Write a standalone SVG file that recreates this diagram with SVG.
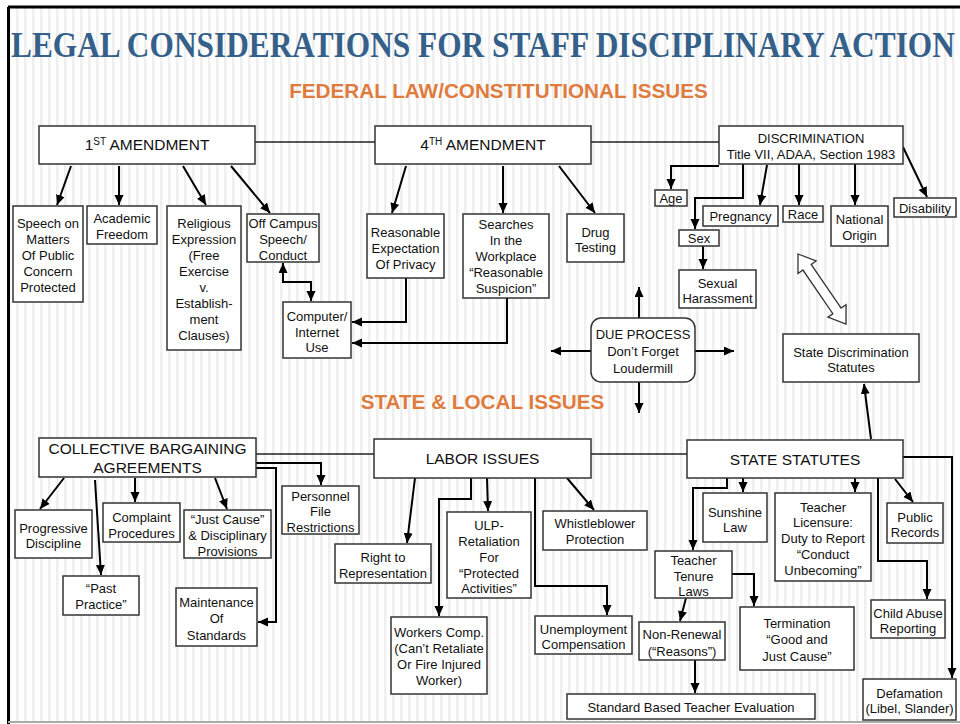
<svg xmlns="http://www.w3.org/2000/svg" width="960" height="724" viewBox="0 0 960 724">
  <defs>
    <pattern id="stripes" width="8" height="10" patternUnits="userSpaceOnUse">
      <rect width="8" height="10" fill="#ffffff"/>
      <rect x="0" width="2.5" height="10" fill="#efefef"/>
    </pattern>
    <marker id="ah" markerUnits="userSpaceOnUse" markerWidth="11" markerHeight="10" refX="10" refY="4.5" orient="auto-start-reverse">
      <path d="M0,0 L10,4.5 L0,9 z" fill="#000"/>
    </marker>
    <style>
      .box { fill: #ffffff; stroke: #333333; stroke-width: 1.5; }
      .t { font-family: "Liberation Sans", Arial, sans-serif; font-size: 13px; text-anchor: middle; fill: #111111; }
      .big { font-size: 15.5px; }
      .head { font-family: "Liberation Sans", Arial, sans-serif; font-weight: bold; font-size: 20.7px; text-anchor: middle; fill: #e07b3e; }
      .title { font-family: "Liberation Serif", "Times New Roman", serif; font-weight: bold; font-size: 35px; fill: #34608a; }
      .ln { fill: none; stroke: #222222; stroke-width: 1.5; }
      .ar { fill: none; stroke: #000000; stroke-width: 2; marker-end: url(#ah); }
      .ar2 { fill: none; stroke: #000000; stroke-width: 2; marker-start: url(#ah); marker-end: url(#ah); }
    </style>
  </defs>

  <!-- slide background and frame -->
  <rect x="0" y="0" width="960" height="724" fill="#ffffff"/>
  <rect x="8" y="7" width="952" height="715" fill="url(#stripes)"/>
  <line x1="8" y1="7" x2="960" y2="7" stroke="#000" stroke-width="3"/>
  <line x1="8.5" y1="7" x2="8.5" y2="724" stroke="#000" stroke-width="3"/>
  <line x1="8" y1="722" x2="960" y2="722" stroke="#aaaaaa" stroke-width="2"/>

  <!-- headings (title narrowed horizontally to fit the slide width) -->
  <text class="title" transform="translate(11,57) scale(0.896,1)" x="0" y="0">LEGAL CONSIDERATIONS FOR STAFF DISCIPLINARY ACTION</text>
  <text class="head" x="498.5" y="98">FEDERAL LAW/CONSTITUTIONAL ISSUES</text>
  <text class="head" x="482.5" y="409">STATE &amp; LOCAL ISSUES</text>

  <!-- connectors -->
  <g id="connectors">
    <line class="ln" x1="255" y1="142" x2="375" y2="142"/>
    <line class="ln" x1="591" y1="142" x2="719" y2="142"/>
    <line class="ln" x1="256" y1="454" x2="374" y2="454"/>
    <line class="ln" x1="591" y1="454" x2="687" y2="454"/>

    <!-- 1st amendment -->
    <path class="ar" d="M71,166 L57,205"/>
    <path class="ar" d="M119,166 V205"/>
    <path class="ar" d="M183,166 L206,205"/>
    <path class="ar" d="M231,166 L270,213"/>
    <path class="ar2" d="M283,263 V282 H311 V301"/>

    <!-- 4th amendment -->
    <path class="ar" d="M406,166 L392,213"/>
    <path class="ar" d="M503,166 V213"/>
    <path class="ar" d="M559,166 L595,213"/>
    <path class="ar" d="M406,278 V322 H352"/>
    <path class="ar" d="M507,298 V343 H352"/>

    <!-- discrimination -->
    <path class="ar" d="M719,166 H671 V189"/>
    <path class="ar" d="M743,164 V198 H695 V229"/>
    <path class="ar" d="M703,246 V269"/>
    <path class="ar" d="M767,165 L760,205"/>
    <path class="ar" d="M799,164 V205"/>
    <path class="ar" d="M855,164 V205"/>
    <path class="ar" d="M903,147 L927,197"/>
    <polygon transform="translate(798,254) rotate(55.6)" points="0,0 16,-11 16,-5 69,-5 69,-11 85,0 69,11 69,5 16,5 16,11" fill="#ffffff" stroke="#333333" stroke-width="1.3"/>

    <!-- due process -->
    <path class="ar" d="M639,318 V287"/>
    <path class="ar" d="M639,382 V413"/>
    <path class="ar" d="M591,351 H551"/>
    <path class="ar" d="M695,351 H734"/>

    <!-- state discrimination statutes -->
    <path class="ar" d="M871,439 L864,384"/>

    <!-- collective bargaining -->
    <path class="ar" d="M64,478 L40,509"/>
    <path class="ar" d="M95,480 L101,575"/>
    <path class="ar" d="M135,478 V502"/>
    <path class="ar" d="M215,478 L227,509"/>
    <path class="ar" d="M256,463 H321 V485"/>
    <path class="ar" d="M256,468 H276 V622 H258"/>

    <!-- labor issues -->
    <path class="ar" d="M415,478 L407,543"/>
    <path class="ar" d="M471,478 V499 H439 V616"/>
    <path class="ar" d="M487,478 L488,511"/>
    <path class="ar" d="M567,478 L594,510"/>
    <path class="ar" d="M535,478 V586 H607 V615"/>

    <!-- state statutes -->
    <path class="ar" d="M743,478 V492"/>
    <path class="ar" d="M855,478 V492"/>
    <path class="ar" d="M895,479 L913,502"/>
    <path class="ar" d="M727,478 V488 H693 V550"/>
    <path class="ar" d="M732,574 H754 V606"/>
    <path class="ar" d="M686,598 L680,621"/>
    <path class="ar" d="M695,660 V693"/>
    <path class="ar" d="M878,478 V561 H927 V599"/>
    <path class="ar" d="M903,457 H952 V678"/>
  </g>

  <!-- federal level -->
  <g id="first-amendment">
    <rect class="box" x="39" y="126" width="216" height="38"/>
    <text class="t big" x="147" y="150">1<tspan font-size="10" dy="-5">ST</tspan><tspan dy="5"> AMENDMENT</tspan></text>
  </g>
  <g id="fourth-amendment">
    <rect class="box" x="375" y="126" width="216" height="38"/>
    <text class="t big" x="483" y="150">4<tspan font-size="10" dy="-5">TH</tspan><tspan dy="5"> AMENDMENT</tspan></text>
  </g>
  <g id="discrimination">
    <rect class="box" x="719" y="126" width="184" height="38"/>
    <text class="t"><tspan x="811" y="143">DISCRIMINATION</tspan><tspan x="811" y="159">Title VII, ADAA, Section 1983</tspan></text>
  </g>

  <g id="speech-public-concern">
    <rect class="box" x="13" y="206" width="70" height="96"/>
    <text class="t"><tspan x="48" y="227.5">Speech on</tspan><tspan x="48" y="243.5">Matters</tspan><tspan x="48" y="259.5">Of Public</tspan><tspan x="48" y="275.5">Concern</tspan><tspan x="48" y="291.5">Protected</tspan></text>
  </g>
  <g id="academic-freedom">
    <rect class="box" x="87" y="206" width="70" height="38"/>
    <text class="t"><tspan x="122" y="222.5">Academic</tspan><tspan x="122" y="238.5">Freedom</tspan></text>
  </g>
  <g id="religious-expression">
    <rect class="box" x="167" y="206" width="74" height="144"/>
    <text class="t"><tspan x="204" y="227.5">Religious</tspan><tspan x="204" y="243.5">Expression</tspan><tspan x="204" y="259.5">(Free</tspan><tspan x="204" y="275.5">Exercise</tspan><tspan x="204" y="291.5">v.</tspan><tspan x="204" y="307.5">Establish-</tspan><tspan x="204" y="323.5">ment</tspan><tspan x="204" y="339.5">Clauses)</tspan></text>
  </g>
  <g id="off-campus">
    <rect class="box" x="247" y="214" width="72" height="48"/>
    <text class="t"><tspan x="283" y="227.5">Off Campus</tspan><tspan x="283" y="243.5">Speech/</tspan><tspan x="283" y="259.5">Conduct</tspan></text>
  </g>
  <g id="computer-internet">
    <rect class="box" x="283" y="302" width="68" height="56"/>
    <text class="t"><tspan x="317" y="320.5">Computer/</tspan><tspan x="317" y="336.5">Internet</tspan><tspan x="317" y="352">Use</tspan></text>
  </g>
  <g id="expectation-privacy">
    <rect class="box" x="367" y="214" width="77" height="64"/>
    <text class="t"><tspan x="405.5" y="236.5">Reasonable</tspan><tspan x="405.5" y="252.5">Expectation</tspan><tspan x="405.5" y="268.5">Of Privacy</tspan></text>
  </g>
  <g id="workplace-searches">
    <rect class="box" x="463" y="214" width="86" height="84"/>
    <text class="t"><tspan x="506" y="228.5">Searches</tspan><tspan x="506" y="244.5">In the</tspan><tspan x="506" y="260.5">Workplace</tspan><tspan x="506" y="276.5">“Reasonable</tspan><tspan x="506" y="292.5">Suspicion”</tspan></text>
  </g>
  <g id="drug-testing">
    <rect class="box" x="567" y="214" width="57" height="48"/>
    <text class="t"><tspan x="595.5" y="236.5">Drug</tspan><tspan x="595.5" y="251.5">Testing</tspan></text>
  </g>

  <g id="age">
    <rect class="box" x="655" y="190" width="32" height="16"/>
    <text class="t" x="671" y="202.5">Age</text>
  </g>
  <g id="sex">
    <rect class="box" x="679" y="230" width="40" height="16"/>
    <text class="t" x="699" y="242.5">Sex</text>
  </g>
  <g id="sexual-harassment">
    <rect class="box" x="679" y="270" width="77" height="38"/>
    <text class="t"><tspan x="717.5" y="287.5">Sexual</tspan><tspan x="717.5" y="302.5">Harassment</tspan></text>
  </g>
  <g id="pregnancy">
    <rect class="box" x="703" y="206" width="75" height="20"/>
    <text class="t" x="740.5" y="220.5">Pregnancy</text>
  </g>
  <g id="race">
    <rect class="box" x="783" y="206" width="40" height="16"/>
    <text class="t" x="803" y="218.5">Race</text>
  </g>
  <g id="national-origin">
    <rect class="box" x="831" y="206" width="57" height="40"/>
    <text class="t"><tspan x="859.5" y="223.5">National</tspan><tspan x="859.5" y="239.5">Origin</tspan></text>
  </g>
  <g id="disability">
    <rect class="box" x="894" y="198" width="62" height="19"/>
    <text class="t" x="925" y="212.5">Disability</text>
  </g>

  <g id="due-process">
    <rect class="box" x="591" y="318" width="104" height="64" rx="10" ry="10"/>
    <text class="t"><tspan x="643" y="338.5">DUE PROCESS</tspan><tspan x="643" y="355.5">Don’t Forget</tspan><tspan x="643" y="372.5">Loudermill</tspan></text>
  </g>
  <g id="state-discrimination">
    <rect class="box" x="783" y="334" width="136" height="48"/>
    <text class="t"><tspan x="851" y="356.5">State Discrimination</tspan><tspan x="851" y="371.5">Statutes</tspan></text>
  </g>

  <!-- state and local level -->
  <g id="collective-bargaining">
    <rect class="box" x="39" y="438" width="217" height="39"/>
    <text class="t big"><tspan x="147.5" y="453.5">COLLECTIVE BARGAINING</tspan><tspan x="147.5" y="472.5">AGREEMENTS</tspan></text>
  </g>
  <g id="labor-issues">
    <rect class="box" x="374" y="439" width="217" height="39"/>
    <text class="t big" x="482.5" y="464">LABOR ISSUES</text>
  </g>
  <g id="state-statutes">
    <rect class="box" x="687" y="440" width="216" height="38"/>
    <text class="t big" x="795" y="464.5">STATE STATUTES</text>
  </g>

  <g id="progressive-discipline">
    <rect class="box" x="15" y="510" width="77" height="48"/>
    <text class="t"><tspan x="53.5" y="532.5">Progressive</tspan><tspan x="53.5" y="547.5">Discipline</tspan></text>
  </g>
  <g id="past-practice">
    <rect class="box" x="63" y="576" width="76" height="39"/>
    <text class="t"><tspan x="101" y="592.5">“Past</tspan><tspan x="101" y="608.5">Practice”</tspan></text>
  </g>
  <g id="complaint-procedures">
    <rect class="box" x="103" y="503" width="77" height="39"/>
    <text class="t"><tspan x="141.5" y="521.5">Complaint</tspan><tspan x="141.5" y="537.5">Procedures</tspan></text>
  </g>
  <g id="just-cause">
    <rect class="box" x="184" y="510" width="87" height="48"/>
    <text class="t"><tspan x="227.5" y="523.5">“Just Cause”</tspan><tspan x="227.5" y="539.5">&amp; Disciplinary</tspan><tspan x="227.5" y="556">Provisions</tspan></text>
  </g>
  <g id="personnel-file">
    <rect class="box" x="282" y="486" width="77" height="48"/>
    <text class="t"><tspan x="320.5" y="500.5">Personnel</tspan><tspan x="320.5" y="516">File</tspan><tspan x="320.5" y="531.5">Restrictions</tspan></text>
  </g>
  <g id="maintenance-standards">
    <rect class="box" x="176" y="588" width="81" height="58"/>
    <text class="t"><tspan x="216.5" y="606.5">Maintenance</tspan><tspan x="216.5" y="622.5">Of</tspan><tspan x="216.5" y="639.5">Standards</tspan></text>
  </g>

  <g id="right-to-representation">
    <rect class="box" x="335" y="544" width="96" height="39"/>
    <text class="t"><tspan x="383" y="561.5">Right to</tspan><tspan x="383" y="577.5">Representation</tspan></text>
  </g>
  <g id="workers-comp">
    <rect class="box" x="391" y="617" width="96" height="77"/>
    <text class="t"><tspan x="439" y="636.5">Workers Comp.</tspan><tspan x="439" y="652.5">(Can’t Retaliate</tspan><tspan x="439" y="668.5">Or Fire Injured</tspan><tspan x="439" y="684.5">Worker)</tspan></text>
  </g>
  <g id="ulp-retaliation">
    <rect class="box" x="447" y="512" width="84" height="86"/>
    <text class="t"><tspan x="489" y="529.5">ULP-</tspan><tspan x="489" y="545.5">Retaliation</tspan><tspan x="489" y="561.5">For</tspan><tspan x="489" y="577.5">“Protected</tspan><tspan x="489" y="592.5">Activities”</tspan></text>
  </g>
  <g id="whistleblower">
    <rect class="box" x="543" y="511" width="104" height="39"/>
    <text class="t"><tspan x="595" y="527.5">Whistleblower</tspan><tspan x="595" y="543.5">Protection</tspan></text>
  </g>
  <g id="unemployment">
    <rect class="box" x="535" y="616" width="97" height="38"/>
    <text class="t"><tspan x="583.5" y="633.5">Unemployment</tspan><tspan x="583.5" y="648.5">Compensation</tspan></text>
  </g>

  <g id="sunshine-law">
    <rect class="box" x="703" y="493" width="64" height="49"/>
    <text class="t"><tspan x="735" y="516.5">Sunshine</tspan><tspan x="735" y="531.5">Law</tspan></text>
  </g>
  <g id="teacher-licensure">
    <rect class="box" x="775" y="493" width="96" height="88"/>
    <text class="t"><tspan x="823" y="511.5">Teacher</tspan><tspan x="823" y="526.5">Licensure:</tspan><tspan x="823" y="542.5">Duty to Report</tspan><tspan x="823" y="558.5">“Conduct</tspan><tspan x="823" y="574.5">Unbecoming”</tspan></text>
  </g>
  <g id="public-records">
    <rect class="box" x="887" y="503" width="56" height="40"/>
    <text class="t"><tspan x="915" y="521.5">Public</tspan><tspan x="915" y="536.5">Records</tspan></text>
  </g>
  <g id="teacher-tenure">
    <rect class="box" x="655" y="551" width="77" height="47"/>
    <text class="t"><tspan x="693.5" y="564.5">Teacher</tspan><tspan x="693.5" y="580.5">Tenure</tspan><tspan x="693.5" y="596">Laws</tspan></text>
  </g>
  <g id="termination">
    <rect class="box" x="740" y="607" width="114" height="63"/>
    <text class="t"><tspan x="797" y="627.5">Termination</tspan><tspan x="797" y="643.5">“Good and</tspan><tspan x="797" y="660.5">Just Cause”</tspan></text>
  </g>
  <g id="non-renewal">
    <rect class="box" x="639" y="622" width="86" height="38"/>
    <text class="t"><tspan x="682" y="638.5">Non-Renewal</tspan><tspan x="682" y="655.5">(“Reasons”)</tspan></text>
  </g>
  <g id="teacher-evaluation">
    <rect class="box" x="567" y="694" width="248" height="25"/>
    <text class="t" x="691" y="711.5">Standard Based Teacher Evaluation</text>
  </g>
  <g id="child-abuse">
    <rect class="box" x="871" y="600" width="74" height="38"/>
    <text class="t"><tspan x="908" y="617.5">Child Abuse</tspan><tspan x="908" y="632.5">Reporting</tspan></text>
  </g>
  <g id="defamation">
    <rect class="box" x="863" y="679" width="93" height="41"/>
    <text class="t"><tspan x="909.5" y="697.5">Defamation</tspan><tspan x="909.5" y="712.5">(Libel, Slander)</tspan></text>
  </g>
</svg>
